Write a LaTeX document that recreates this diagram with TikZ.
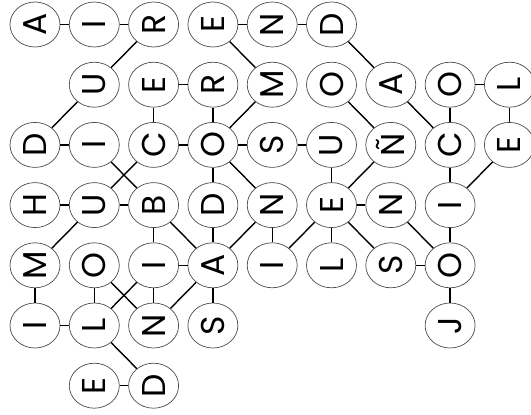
\documentclass[tikz,border=0pt]{standalone}
\usepackage{fontspec}
\newfontfamily\popfont{Poppins}
\usetikzlibrary{shapes.geometric}
\tikzset{
  letter/.style={ellipse, draw=black!70, line width=0.7pt, fill=white,
    minimum width=50pt, minimum height=45pt, inner sep=0pt},
  glyph/.style={rotate=90, inner sep=0pt, font=\popfont\fontsize{33pt}{33pt}\selectfont},
  link/.style={line width=1.4pt, black}
}
\newcommand{\lt}[4]{\node[letter] (c#1r#2) at ({35+59.3*#1},{-24.5-60.2*#2}) {};}
\newcommand{\gl}[3]{\node[glyph] (t#1r#2) at (c#1r#2) {#3};}
\begin{document}
\begin{tikzpicture}[x=1pt,y=1pt]
\useasboundingbox (0,0) rectangle (531,-415);
% ellipses: row 0
\lt{0}{0}{}{} \lt{1}{0}{}{} \lt{2}{0}{}{} \lt{3}{0}{}{} \lt{4}{0}{}{} \lt{5}{0}{}{}
% row 1
\lt{1}{1}{}{} \lt{2}{1}{}{} \lt{3}{1}{}{} \lt{4}{1}{}{} \lt{5}{1}{}{} \lt{6}{1}{}{} \lt{7}{1}{}{} \lt{8}{1}{}{}
% row 2
\lt{0}{2}{}{} \lt{1}{2}{}{} \lt{2}{2}{}{} \lt{3}{2}{}{} \lt{4}{2}{}{} \lt{5}{2}{}{} \lt{6}{2}{}{} \lt{7}{2}{}{} \lt{8}{2}{}{}
% row 3
\lt{0}{3}{}{} \lt{1}{3}{}{} \lt{2}{3}{}{} \lt{3}{3}{}{} \lt{4}{3}{}{} \lt{5}{3}{}{} \lt{6}{3}{}{} \lt{7}{3}{}{}
% row 4
\lt{0}{4}{}{} \lt{1}{4}{}{} \lt{2}{4}{}{} \lt{3}{4}{}{} \lt{4}{4}{}{} \lt{5}{4}{}{} \lt{6}{4}{}{} \lt{7}{4}{}{}
% row 5
\lt{0}{5}{}{} \lt{1}{5}{}{} \lt{2}{5}{}{} \lt{3}{5}{}{} \lt{7}{5}{}{}
% row 6
\lt{1}{6}{}{} \lt{2}{6}{}{}
% letters
\gl{0}{0}{A} \gl{1}{0}{I} \gl{2}{0}{R} \gl{3}{0}{E} \gl{4}{0}{N} \gl{5}{0}{D}
\gl{1}{1}{U} \gl{2}{1}{E} \gl{3}{1}{R} \gl{4}{1}{M} \gl{5}{1}{O} \gl{6}{1}{A} \gl{7}{1}{O} \gl{8}{1}{L}
\gl{0}{2}{D} \gl{1}{2}{I} \gl{2}{2}{C} \gl{3}{2}{O} \gl{4}{2}{S} \gl{5}{2}{U} \gl{6}{2}{Ñ} \gl{7}{2}{C} \gl{8}{2}{E}
\gl{0}{3}{H} \gl{1}{3}{U} \gl{2}{3}{B} \gl{3}{3}{D} \gl{4}{3}{N} \gl{5}{3}{E} \gl{6}{3}{N} \gl{7}{3}{I}
\gl{0}{4}{M} \gl{1}{4}{O} \gl{2}{4}{I} \gl{3}{4}{A} \gl{4}{4}{I} \gl{5}{4}{L} \gl{6}{4}{S} \gl{7}{4}{O}
\gl{0}{5}{I} \gl{1}{5}{L} \gl{2}{5}{N} \gl{3}{5}{S} \gl{7}{5}{J}
\gl{1}{6}{E} \gl{2}{6}{D}
\foreach \a/\b in {
  c0r0/c1r0, c1r0/c2r0, c2r0/c1r1, c1r1/c0r2, c3r0/c4r0, c4r0/c5r0, c3r0/c4r1, c5r0/c6r1,
  c2r1/c3r1, c2r1/c2r2, c3r1/c3r2, c4r1/c3r2, c5r1/c6r2, c6r1/c7r2, c7r1/c8r1, c7r1/c7r2, c8r1/c8r2,
  c0r2/c1r2, c2r2/c3r2, c3r2/c4r2, c4r2/c5r2, c1r2/c2r3, c2r2/c1r3, c3r2/c3r3, c3r2/c4r3,
  c5r2/c5r3, c6r2/c5r3, c7r2/c7r3, c8r2/c7r3,
  c0r3/c1r3, c1r3/c2r3, c5r3/c6r3, c1r3/c0r4, c2r3/c2r4, c2r3/c3r4, c3r3/c3r4, c4r3/c3r4,
  c4r3/c4r4, c5r3/c4r4, c5r3/c5r4, c5r3/c6r4, c6r3/c7r4, c7r3/c7r4,
  c0r4/c0r5, c1r4/c1r5, c1r4/c2r5, c2r4/c1r5, c2r4/c3r4, c2r4/c2r5, c3r4/c2r5, c3r4/c3r5,
  c6r4/c7r4, c7r4/c7r5, c0r5/c1r5, c1r5/c2r6, c1r6/c2r6}
  {\draw[link] (\a) -- (\b);}
\end{tikzpicture}
\end{document}
